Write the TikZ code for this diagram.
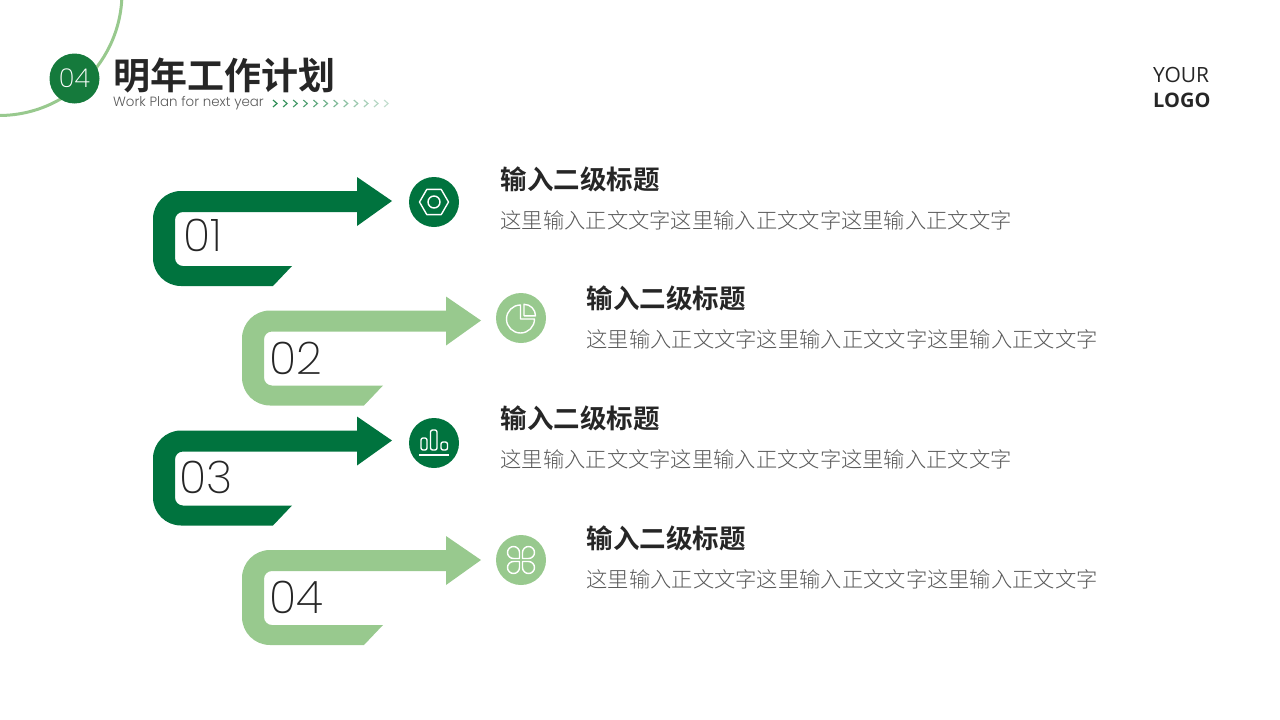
\documentclass[tikz,border=0pt]{standalone}
\usepackage{fontspec}
\setmainfont{Noto Sans CJK SC}
\newfontfamily\cjkbold{Noto Sans CJK SC Bold}
\newfontfamily\cjklight{Noto Sans CJK SC Light}
\newfontfamily\numfont{Poppins ExtraLight}
\newfontfamily\subfont{Poppins Light}
\newfontfamily\logofont{Open Sans}
\definecolor{darkgrn}{HTML}{00733E}
\definecolor{badgegrn}{HTML}{157A3C}
\definecolor{lightgrn}{HTML}{98C98E}
\definecolor{inkdark}{HTML}{262626}
\definecolor{inkgray}{HTML}{595959}
\tikzset{
  heading/.style={anchor=west,inner sep=0pt,text=inkdark,font=\cjkbold\fontsize{26.5}{26.5}\selectfont},
  bodytext/.style={anchor=west,inner sep=0pt,text=inkgray,font=\cjklight\fontsize{21.3}{21.3}\selectfont},
  numlabel/.style={anchor=west,inner sep=0pt,text=inkdark,font=\numfont\fontsize{45}{45}\selectfont},
  iconline/.style={draw=white,line width=1.4pt,line join=round}
}
\def\bendarrow(#1,#2)#3#4{\fill [#3,shift={(#1,#2)}] (392,201) -- (357,177) -- (357,191) [rounded corners=28pt] -- (153,191) -- (153,286) [sharp corners] -- (273+#4,286) -- (292+#4,266) [rounded corners=8pt] -- (175,266) -- (175,212) [sharp corners] -- (357,212) -- (357,226) -- cycle;}
\begin{document}
\begin{tikzpicture}[x=1pt,y=-1pt]
\useasboundingbox (0,0) rectangle (1280,720);
% top corner
\draw [lightgrn,line width=3pt] (-1,-7.5) circle [radius=123pt];
\node [circle,fill=badgegrn,minimum size=50pt,inner sep=0pt,text=white,font=\numfont\fontsize{26}{26}\selectfont] (badge) at (74.5,78.5) {04};
\node [anchor=west,inner sep=0pt,text=inkdark,font=\cjkbold\fontsize{37}{37}\selectfont] (title) at (113.5,75) {明年工作计划};
\node [anchor=west,inner sep=0pt,text=inkgray,font=\subfont\fontsize{13.4}{13.4}\selectfont] (subtitle) at (113,103.5) {Work Plan for next year};
\foreach \i in {0,...,11} \draw [darkgrn!70!lightgrn,line width=1.2pt,opacity=1-\i*0.065] (273+\i*10.1,100) -- ++(4,3.5) -- ++(-4,3.5);
\node [anchor=west,inner sep=0pt,text=inkdark,font=\logofont\fontsize{21}{21}\selectfont] (your) at (1153,75) {YOUR};
\node [anchor=west,inner sep=0pt,text=inkdark,font=\logofont\bfseries\fontsize{20}{20}\selectfont] (logo) at (1153,100.5) {LOGO};
% arrows
\bendarrow(0,0){darkgrn}{0}
\bendarrow(89,119.5){lightgrn}{2}
\bendarrow(0,239.5){darkgrn}{0}
\bendarrow(89,359){lightgrn}{2}
\node [numlabel] (num1) at (183,235) {01};
\node [numlabel] (num2) at (269,358) {02};
\node [numlabel] (num3) at (179,477) {03};
\node [numlabel] (num4) at (269,597) {04};
% circles
\node [circle,fill=darkgrn,minimum size=50pt,inner sep=0pt] (circ1) at (434,202) {};
\node [circle,fill=lightgrn,minimum size=50pt,inner sep=0pt] (circ2) at (521,318) {};
\node [circle,fill=darkgrn,minimum size=50pt,inner sep=0pt] (circ3) at (434,443) {};
\node [circle,fill=lightgrn,minimum size=50pt,inner sep=0pt] (circ4) at (521,560) {};
% icons
\begin{scope}[shift={(434,202)},y=1pt]
  \draw [iconline] (0:14.5) -- (60:14.5) -- (120:14.5) -- (180:14.5) -- (240:14.5) -- (300:14.5) -- cycle;
  \draw [iconline] (0,0) circle [radius=6pt];
\end{scope}
\begin{scope}[shift={(521,318)},y=1pt]
  \draw [iconline] (-0.5,13) arc [start angle=90,end angle=360,radius=14pt] -- (-0.5,-1) -- cycle;
  \draw [iconline] (3,13.7) arc [start angle=90,end angle=0,radius=11.5pt] -- (3,2.2) -- cycle;
\end{scope}
\begin{scope}[shift={(434,443)},y=1pt]
  \draw [iconline,rounded corners=2pt] (-13,5) rectangle (-7,-7);
  \draw [iconline,rounded corners=2pt] (-3.5,13) rectangle (3,-7);
  \draw [iconline,rounded corners=2pt] (7,1) rectangle (13.5,-7);
  \draw [iconline] (-15,-12) -- (15,-12);
\end{scope}
\begin{scope}[shift={(521,560)},y=1pt]
  \foreach \a in {0,90,180,270} {
    \draw [iconline,rotate=\a] (1.5,1.5) -- (7.5,1.5) arc [start angle=-90,end angle=180,radius=6pt] -- cycle;
  }
\end{scope}
% texts
\node [heading] (head1) at (500.5,179) {输入二级标题};
\node [bodytext] (body1) at (500.3,220.5) {这里输入正文文字这里输入正文文字这里输入正文文字};
\node [heading] (head2) at (586.5,298) {输入二级标题};
\node [bodytext] (body2) at (586.3,339.5) {这里输入正文文字这里输入正文文字这里输入正文文字};
\node [heading] (head3) at (500.5,418) {输入二级标题};
\node [bodytext] (body3) at (500.3,459.5) {这里输入正文文字这里输入正文文字这里输入正文文字};
\node [heading] (head4) at (586.5,538) {输入二级标题};
\node [bodytext] (body4) at (586.3,579.5) {这里输入正文文字这里输入正文文字这里输入正文文字};
\end{tikzpicture}
\end{document}
